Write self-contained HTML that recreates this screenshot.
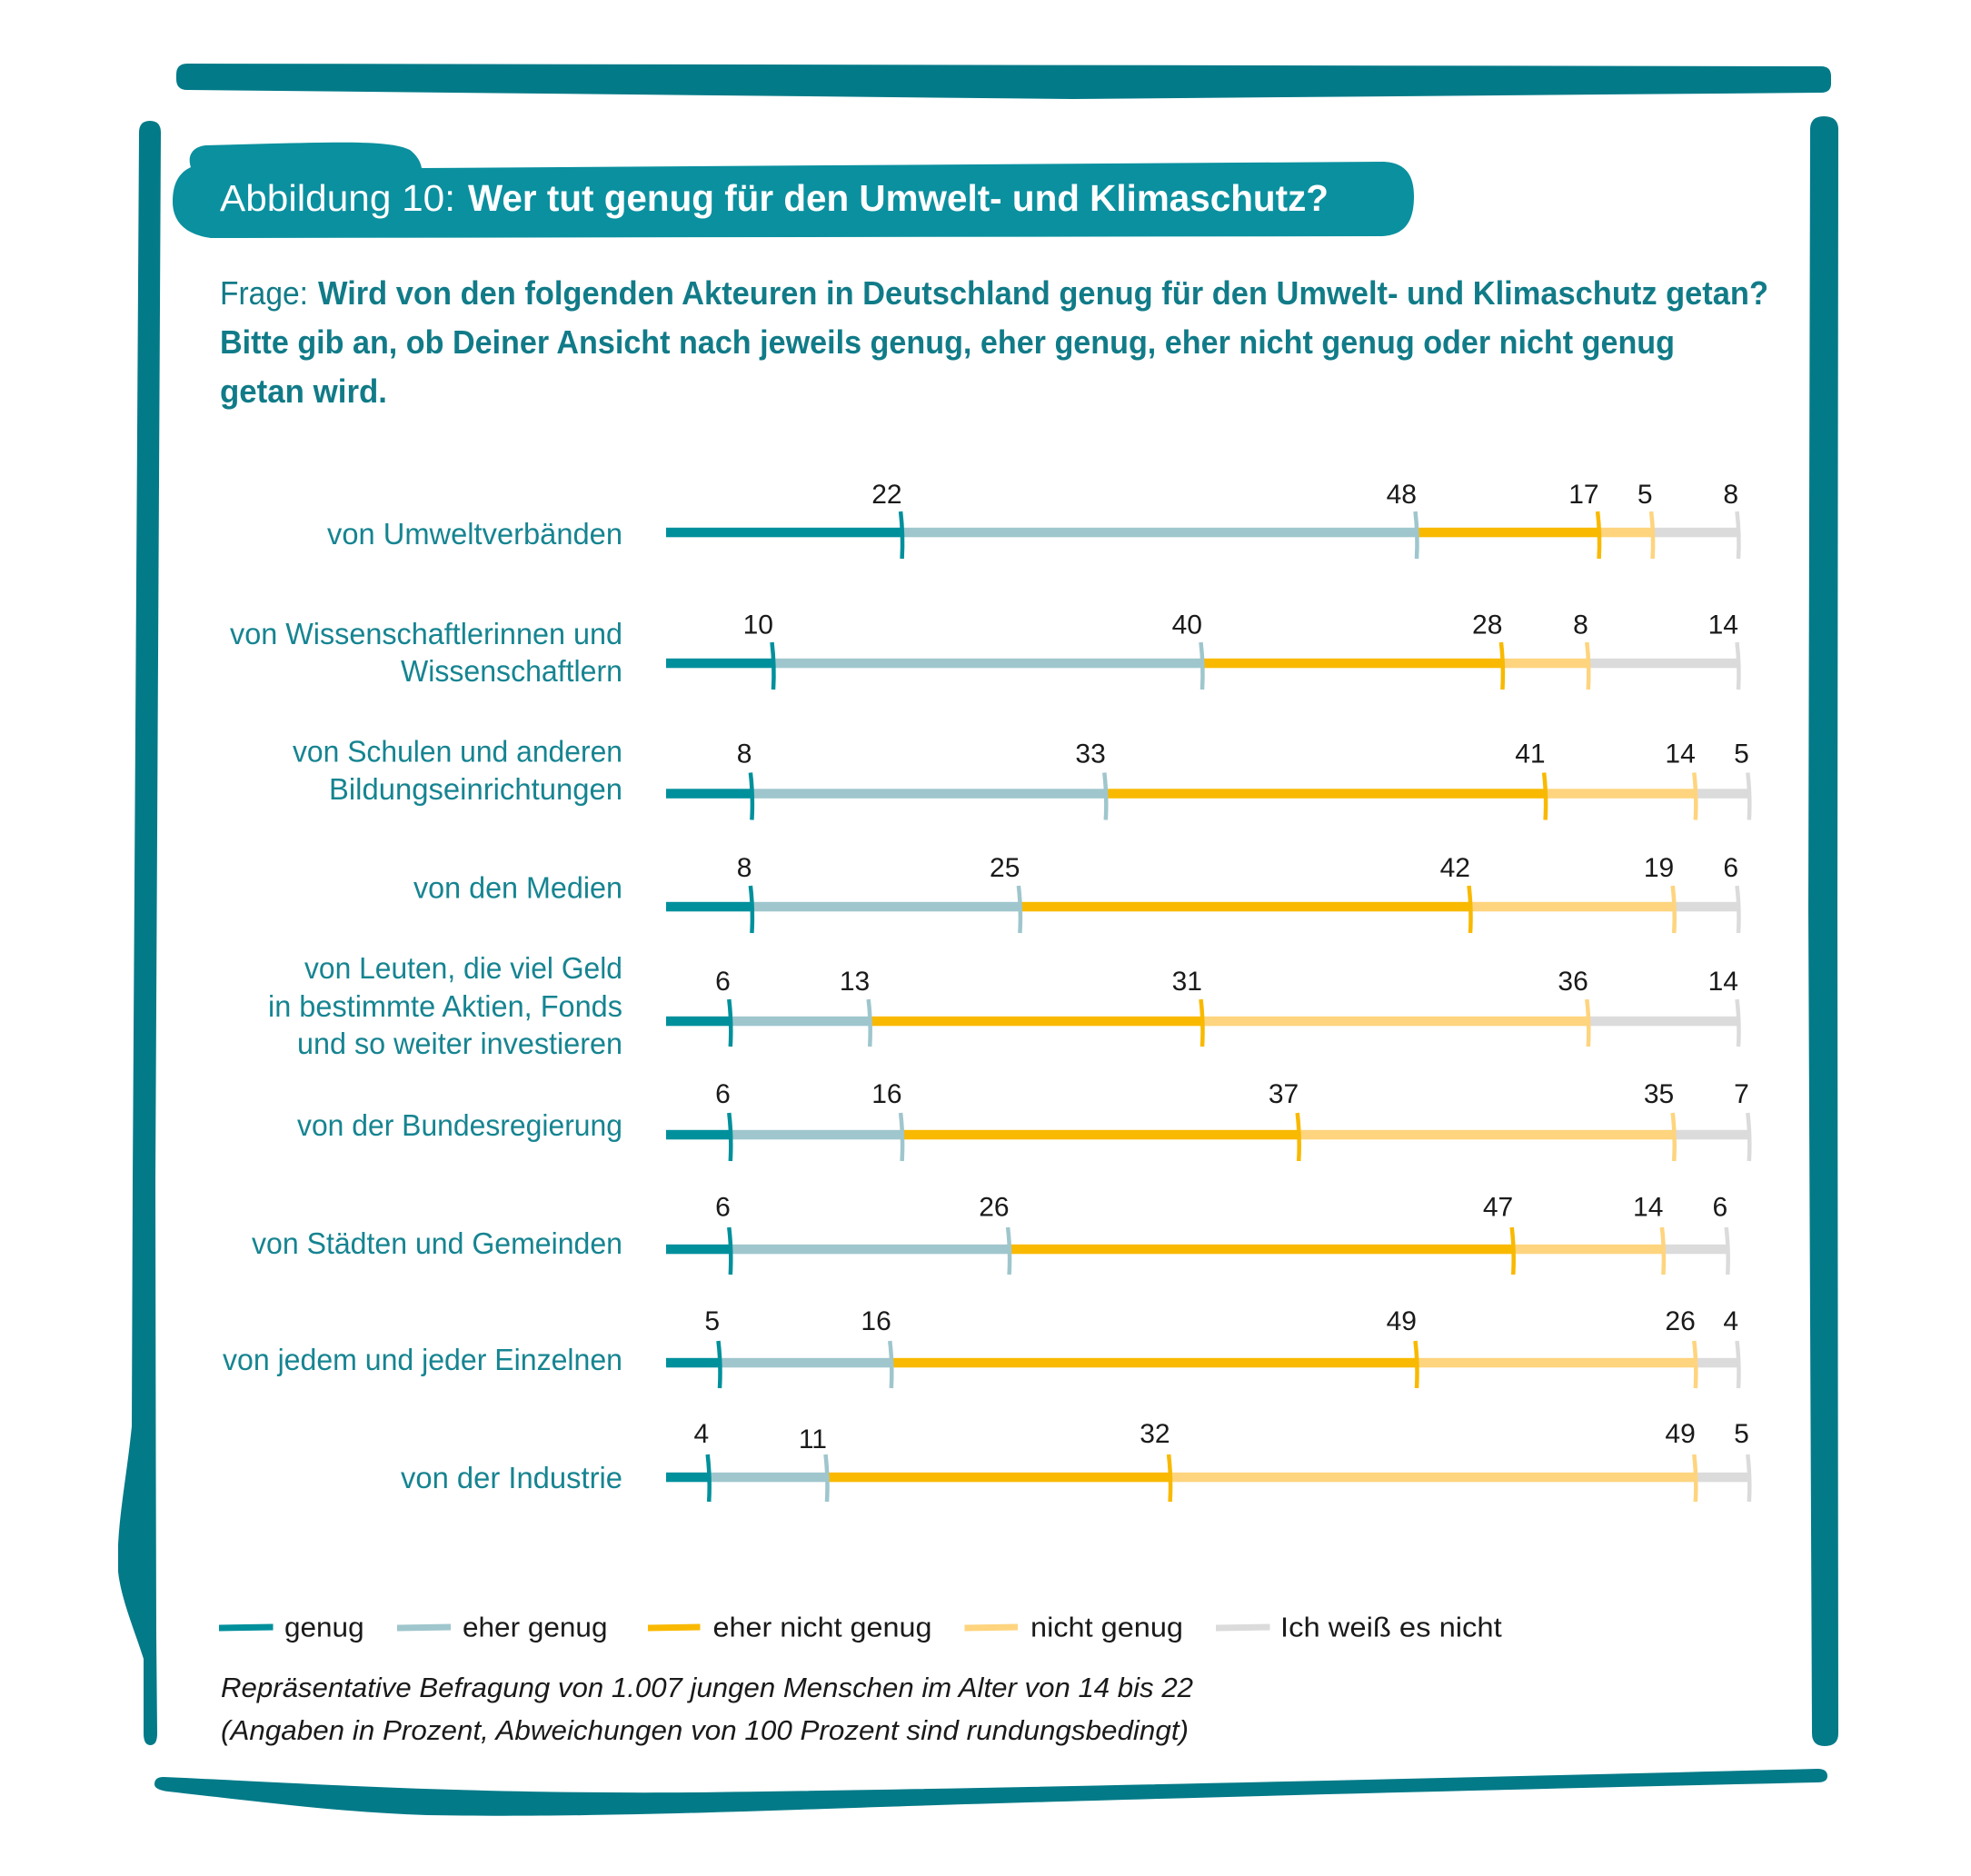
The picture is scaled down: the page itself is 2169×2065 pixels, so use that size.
<!DOCTYPE html>
<html>
<head>
<meta charset="utf-8">
<style>
html,body{margin:0;padding:0;background:#fff;}
svg{display:block;}
text{font-family:"Liberation Sans", sans-serif;}
</style>
</head>
<body>
<svg width="2169" height="2065" viewBox="0 0 2169 2065" xmlns="http://www.w3.org/2000/svg">
<rect x="0" y="0" width="2169" height="2065" fill="#ffffff"/>

<!-- frame -->
<g fill="#037a88">
<path d="M206,70 L2004,73 Q2015,73 2015,84 L2015,92 Q2015,102 2004,102 L1180,109 L206,99 Q194,99 194,87 L194,82 Q194,70 206,70 Z"/>
<path d="M153,146 Q153,133 165,133 Q177,133 177,146 L171,1300 L171.5,1600 L172,1800 L173,1908 Q173,1921 165.5,1921 Q158,1921 158,1908 L158,1826 C150,1800 133,1760 130,1730 L130,1700 C132,1660 140,1620 145,1570 L146,1300 Z"/>
<path d="M1992,141 Q1993,128 2007,128 Q2022,128 2023,141 L2022,1000 L2023,1908 Q2023,1922 2008,1922 Q1994,1922 1994,1908 L1990,1000 Z"/>
<path d="M180,1956 C300,1961 500,1975 760,1973 C1100,1969 1600,1957 2000,1947 Q2011,1947 2011,1955 Q2011,1962 2000,1962 C1600,1971 1100,1984 880,1992 C700,1998 580,2000 470,1998 C380,1995 300,1985 185,1972 Q170,1970 170,1964 Q170,1956 180,1956 Z"/>
</g>

<!-- title pill -->
<path fill="#0b909f" d="M232,262 C202,258 190,242 190,222 C190,202 197,190 210,184 C206,172 211,162 226,160 L300,158 C380,156 432,155 451,165 C460,172 463,179 464,185 L1520,178 C1547,178 1556,193 1556,216 C1556,244 1546,259 1520,260 L232,262 Z"/>
<text x="242" y="232" font-size="41" fill="#ffffff" textLength="259" lengthAdjust="spacingAndGlyphs">Abbildung 10:</text>
<text x="515" y="232" font-size="41" font-weight="bold" fill="#ffffff" textLength="947" lengthAdjust="spacingAndGlyphs">Wer tut genug für den Umwelt- und Klimaschutz?</text>

<!-- question -->
<g fill="#117b88" font-size="36">
<text x="242" y="335" textLength="97" lengthAdjust="spacingAndGlyphs">Frage:</text>
<text x="350" y="335" font-weight="bold" textLength="1596" lengthAdjust="spacingAndGlyphs">Wird von den folgenden Akteuren in Deutschland genug für den Umwelt- und Klimaschutz getan?</text>
<text x="242" y="389" font-weight="bold" textLength="1601" lengthAdjust="spacingAndGlyphs">Bitte gib an, ob Deiner Ansicht nach jeweils genug, eher genug, eher nicht genug oder nicht genug</text>
<text x="242" y="443" font-weight="bold" textLength="184" lengthAdjust="spacingAndGlyphs">getan wird.</text>
</g>

<!-- row labels -->
<g fill="#168491" font-size="33" text-anchor="end">
<text x="685" y="599" textLength="325" lengthAdjust="spacingAndGlyphs">von Umweltverbänden</text>
<text x="685" y="709" textLength="432" lengthAdjust="spacingAndGlyphs">von Wissenschaftlerinnen und</text>
<text x="685" y="750" textLength="244" lengthAdjust="spacingAndGlyphs">Wissenschaftlern</text>
<text x="685" y="838.5" textLength="363" lengthAdjust="spacingAndGlyphs">von Schulen und anderen</text>
<text x="685" y="880" textLength="323" lengthAdjust="spacingAndGlyphs">Bildungseinrichtungen</text>
<text x="685" y="988.5" textLength="230" lengthAdjust="spacingAndGlyphs">von den Medien</text>
<text x="685" y="1077" textLength="350" lengthAdjust="spacingAndGlyphs">von Leuten, die viel Geld</text>
<text x="685" y="1119" textLength="390" lengthAdjust="spacingAndGlyphs">in bestimmte Aktien, Fonds</text>
<text x="685" y="1160" textLength="358" lengthAdjust="spacingAndGlyphs">und so weiter investieren</text>
<text x="685" y="1250" textLength="358" lengthAdjust="spacingAndGlyphs">von der Bundesregierung</text>
<text x="685" y="1380" textLength="408" lengthAdjust="spacingAndGlyphs">von Städten und Gemeinden</text>
<text x="685" y="1508" textLength="440" lengthAdjust="spacingAndGlyphs">von jedem und jeder Einzelnen</text>
<text x="685" y="1638" textLength="244" lengthAdjust="spacingAndGlyphs">von der Industrie</text>
</g>

<!-- bars -->
<g font-size="30" fill="#1a1a1a" text-anchor="end" stroke-width="4.5">

<!-- Row 1 -->
<g transform="translate(0,586)">
<rect x="733" y="-5.2" width="259.6" height="10.5" fill="#00909c"/>
<rect x="992.6" y="-5.2" width="566.4" height="10.5" fill="#9fc6cd"/>
<rect x="1559" y="-5.2" width="200.6" height="10.5" fill="#f9b900"/>
<rect x="1759.6" y="-5.2" width="59" height="10.5" fill="#fed47e"/>
<rect x="1818.6" y="-5.2" width="94.4" height="10.5" fill="#dbdbdb"/>
<g fill="none">
<path d="M991.1,-23 Q994.1,3 992.6,29" stroke="#00909c"/>
<path d="M1557.5,-23 Q1560.5,3 1559,29" stroke="#9fc6cd"/>
<path d="M1758.1,-23 Q1761.1,3 1759.6,29" stroke="#f9b900"/>
<path d="M1817.1,-23 Q1820.1,3 1818.6,29" stroke="#fed47e"/>
<path d="M1911.5,-23 Q1914.5,3 1913,29" stroke="#dbdbdb"/>
</g>
<text x="992.6" y="-32">22</text>
<text x="1559" y="-32">48</text>
<text x="1759.6" y="-32">17</text>
<text x="1818.6" y="-32">5</text>
<text x="1913" y="-32">8</text>
</g>

<!-- Row 2 -->
<g transform="translate(0,730)">
<rect x="733" y="-5.2" width="118" height="10.5" fill="#00909c"/>
<rect x="851" y="-5.2" width="472" height="10.5" fill="#9fc6cd"/>
<rect x="1323" y="-5.2" width="330.4" height="10.5" fill="#f9b900"/>
<rect x="1653.4" y="-5.2" width="94.4" height="10.5" fill="#fed47e"/>
<rect x="1747.8" y="-5.2" width="165.2" height="10.5" fill="#dbdbdb"/>
<g fill="none">
<path d="M849.5,-23 Q852.5,3 851,29" stroke="#00909c"/>
<path d="M1321.5,-23 Q1324.5,3 1323,29" stroke="#9fc6cd"/>
<path d="M1651.9,-23 Q1654.9,3 1653.4,29" stroke="#f9b900"/>
<path d="M1746.3,-23 Q1749.3,3 1747.8,29" stroke="#fed47e"/>
<path d="M1911.5,-23 Q1914.5,3 1913,29" stroke="#dbdbdb"/>
</g>
<text x="851" y="-32.5">10</text>
<text x="1323" y="-32.5">40</text>
<text x="1653.4" y="-32.5">28</text>
<text x="1747.8" y="-32.5">8</text>
<text x="1913" y="-32.5">14</text>
</g>

<!-- Row 3 -->
<g transform="translate(0,873.5)">
<rect x="733" y="-5.2" width="94.4" height="10.5" fill="#00909c"/>
<rect x="827.4" y="-5.2" width="389.4" height="10.5" fill="#9fc6cd"/>
<rect x="1216.8" y="-5.2" width="483.8" height="10.5" fill="#f9b900"/>
<rect x="1700.6" y="-5.2" width="165.2" height="10.5" fill="#fed47e"/>
<rect x="1865.8" y="-5.2" width="59" height="10.5" fill="#dbdbdb"/>
<g fill="none">
<path d="M825.9,-23 Q828.9,3 827.4,29" stroke="#00909c"/>
<path d="M1215.3,-23 Q1218.3,3 1216.8,29" stroke="#9fc6cd"/>
<path d="M1699.1,-23 Q1702.1,3 1700.6,29" stroke="#f9b900"/>
<path d="M1864.3,-23 Q1867.3,3 1865.8,29" stroke="#fed47e"/>
<path d="M1923.3,-23 Q1926.3,3 1924.8,29" stroke="#dbdbdb"/>
</g>
<text x="827.4" y="-34">8</text>
<text x="1216.8" y="-34">33</text>
<text x="1700.6" y="-34">41</text>
<text x="1865.8" y="-34">14</text>
<text x="1924.8" y="-34">5</text>
</g>

<!-- Row 4 -->
<g transform="translate(0,998)">
<rect x="733" y="-5.2" width="94.4" height="10.5" fill="#00909c"/>
<rect x="827.4" y="-5.2" width="295" height="10.5" fill="#9fc6cd"/>
<rect x="1122.4" y="-5.2" width="495.6" height="10.5" fill="#f9b900"/>
<rect x="1618" y="-5.2" width="224.2" height="10.5" fill="#fed47e"/>
<rect x="1842.2" y="-5.2" width="70.8" height="10.5" fill="#dbdbdb"/>
<g fill="none">
<path d="M825.9,-23 Q828.9,3 827.4,29" stroke="#00909c"/>
<path d="M1120.9,-23 Q1123.9,3 1122.4,29" stroke="#9fc6cd"/>
<path d="M1616.5,-23 Q1619.5,3 1618,29" stroke="#f9b900"/>
<path d="M1840.7,-23 Q1843.7,3 1842.2,29" stroke="#fed47e"/>
<path d="M1911.5,-23 Q1914.5,3 1913,29" stroke="#dbdbdb"/>
</g>
<text x="827.4" y="-33">8</text>
<text x="1122.4" y="-33">25</text>
<text x="1618" y="-33">42</text>
<text x="1842.2" y="-33">19</text>
<text x="1913" y="-33">6</text>
</g>

<!-- Row 5 -->
<g transform="translate(0,1124)">
<rect x="733" y="-5.2" width="70.8" height="10.5" fill="#00909c"/>
<rect x="803.8" y="-5.2" width="153.4" height="10.5" fill="#9fc6cd"/>
<rect x="957.2" y="-5.2" width="365.8" height="10.5" fill="#f9b900"/>
<rect x="1323" y="-5.2" width="424.8" height="10.5" fill="#fed47e"/>
<rect x="1747.8" y="-5.2" width="165.2" height="10.5" fill="#dbdbdb"/>
<g fill="none">
<path d="M802.3,-24 Q805.3,2 803.8,28" stroke="#00909c"/>
<path d="M955.7,-24 Q958.7,2 957.2,28" stroke="#9fc6cd"/>
<path d="M1321.5,-24 Q1324.5,2 1323,28" stroke="#f9b900"/>
<path d="M1746.3,-24 Q1749.3,2 1747.8,28" stroke="#fed47e"/>
<path d="M1911.5,-24 Q1914.5,2 1913,28" stroke="#dbdbdb"/>
</g>
<text x="803.8" y="-34">6</text>
<text x="957.2" y="-34">13</text>
<text x="1323" y="-34">31</text>
<text x="1747.8" y="-34">36</text>
<text x="1913" y="-34">14</text>
</g>

<!-- Row 6 -->
<g transform="translate(0,1249)">
<rect x="733" y="-5.2" width="70.8" height="10.5" fill="#00909c"/>
<rect x="803.8" y="-5.2" width="188.8" height="10.5" fill="#9fc6cd"/>
<rect x="992.6" y="-5.2" width="436.6" height="10.5" fill="#f9b900"/>
<rect x="1429.2" y="-5.2" width="413" height="10.5" fill="#fed47e"/>
<rect x="1842.2" y="-5.2" width="82.6" height="10.5" fill="#dbdbdb"/>
<g fill="none">
<path d="M802.3,-24 Q805.3,2 803.8,29" stroke="#00909c"/>
<path d="M991.1,-24 Q994.1,2 992.6,29" stroke="#9fc6cd"/>
<path d="M1427.7,-24 Q1430.7,2 1429.2,29" stroke="#f9b900"/>
<path d="M1840.7,-24 Q1843.7,2 1842.2,29" stroke="#fed47e"/>
<path d="M1923.3,-24 Q1926.3,2 1924.8,29" stroke="#dbdbdb"/>
</g>
<text x="803.8" y="-35">6</text>
<text x="992.6" y="-35">16</text>
<text x="1429.2" y="-35">37</text>
<text x="1842.2" y="-35">35</text>
<text x="1924.8" y="-35">7</text>
</g>

<!-- Row 7 -->
<g transform="translate(0,1375)">
<rect x="733" y="-5.2" width="70.8" height="10.5" fill="#00909c"/>
<rect x="803.8" y="-5.2" width="306.8" height="10.5" fill="#9fc6cd"/>
<rect x="1110.6" y="-5.2" width="554.6" height="10.5" fill="#f9b900"/>
<rect x="1665.2" y="-5.2" width="165.2" height="10.5" fill="#fed47e"/>
<rect x="1830.4" y="-5.2" width="70.8" height="10.5" fill="#dbdbdb"/>
<g fill="none">
<path d="M802.3,-24 Q805.3,2 803.8,28" stroke="#00909c"/>
<path d="M1109.1,-24 Q1112.1,2 1110.6,28" stroke="#9fc6cd"/>
<path d="M1663.7,-24 Q1666.7,2 1665.2,28" stroke="#f9b900"/>
<path d="M1828.9,-24 Q1831.9,2 1830.4,28" stroke="#fed47e"/>
<path d="M1899.7,-24 Q1902.7,2 1901.2,28" stroke="#dbdbdb"/>
</g>
<text x="803.8" y="-36.5">6</text>
<text x="1110.6" y="-36.5">26</text>
<text x="1665.2" y="-36.5">47</text>
<text x="1830.4" y="-36.5">14</text>
<text x="1901.2" y="-36.5">6</text>
</g>

<!-- Row 8 -->
<g transform="translate(0,1500)">
<rect x="733" y="-5.2" width="59" height="10.5" fill="#00909c"/>
<rect x="792" y="-5.2" width="188.8" height="10.5" fill="#9fc6cd"/>
<rect x="980.8" y="-5.2" width="578.2" height="10.5" fill="#f9b900"/>
<rect x="1559" y="-5.2" width="306.8" height="10.5" fill="#fed47e"/>
<rect x="1865.8" y="-5.2" width="47.2" height="10.5" fill="#dbdbdb"/>
<g fill="none">
<path d="M790.5,-24 Q793.5,2 792,28" stroke="#00909c"/>
<path d="M979.3,-24 Q982.3,2 980.8,28" stroke="#9fc6cd"/>
<path d="M1557.5,-24 Q1560.5,2 1559,28" stroke="#f9b900"/>
<path d="M1864.3,-24 Q1867.3,2 1865.8,28" stroke="#fed47e"/>
<path d="M1911.5,-24 Q1914.5,2 1913,28" stroke="#dbdbdb"/>
</g>
<text x="792" y="-36">5</text>
<text x="980.8" y="-36">16</text>
<text x="1559" y="-36">49</text>
<text x="1865.8" y="-36">26</text>
<text x="1913" y="-36">4</text>
</g>

<!-- Row 9 -->
<g transform="translate(0,1626)">
<rect x="733" y="-5.2" width="47.2" height="10.5" fill="#00909c"/>
<rect x="780.2" y="-5.2" width="129.8" height="10.5" fill="#9fc6cd"/>
<rect x="910" y="-5.2" width="377.6" height="10.5" fill="#f9b900"/>
<rect x="1287.6" y="-5.2" width="578.2" height="10.5" fill="#fed47e"/>
<rect x="1865.8" y="-5.2" width="59" height="10.5" fill="#dbdbdb"/>
<g fill="none">
<path d="M778.7,-25 Q781.7,2 780.2,27" stroke="#00909c"/>
<path d="M908.5,-25 Q911.5,2 910,27" stroke="#9fc6cd"/>
<path d="M1286.1,-25 Q1289.1,2 1287.6,27" stroke="#f9b900"/>
<path d="M1864.3,-25 Q1867.3,2 1865.8,27" stroke="#fed47e"/>
<path d="M1923.3,-25 Q1926.3,2 1924.8,27" stroke="#dbdbdb"/>
</g>
<text x="780.2" y="-38">4</text>
<text x="910" y="-32">11</text>
<text x="1287.6" y="-38">32</text>
<text x="1865.8" y="-38">49</text>
<text x="1924.8" y="-38">5</text>
</g>
</g>

<!-- legend -->
<path d="M241,1788.5 L300.5,1787.5 L300.5,1794.5 L241,1795.5 Z" fill="#00909c"/>
<path d="M437,1788.5 L496,1787.5 L496,1794.5 L437,1795.5 Z" fill="#9fc6cd"/>
<path d="M713,1788.5 L770.5,1787.5 L770.5,1794.5 L713,1795.5 Z" fill="#f9b900"/>
<path d="M1061.5,1788.5 L1120,1787.5 L1120,1794.5 L1061.5,1795.5 Z" fill="#fed47e"/>
<path d="M1338,1788.5 L1397.5,1787.5 L1397.5,1794.5 L1338,1795.5 Z" fill="#dbdbdb"/>
<g font-size="31" fill="#1a1a1a">
<text x="313" y="1801.5" textLength="87.6" lengthAdjust="spacingAndGlyphs">genug</text>
<text x="509" y="1801.5" textLength="159.5" lengthAdjust="spacingAndGlyphs">eher genug</text>
<text x="784.5" y="1801.5" textLength="241" lengthAdjust="spacingAndGlyphs">eher nicht genug</text>
<text x="1134" y="1801.5" textLength="168" lengthAdjust="spacingAndGlyphs">nicht genug</text>
<text x="1409" y="1801.5" textLength="243.7" lengthAdjust="spacingAndGlyphs">Ich weiß es nicht</text>
</g>

<!-- footnote -->
<g font-size="31" font-style="italic" fill="#1a1a1a">
<text x="243" y="1868" textLength="1070" lengthAdjust="spacingAndGlyphs">Repräsentative Befragung von 1.007 jungen Menschen im Alter von 14 bis 22</text>
<text x="243" y="1915" textLength="1065" lengthAdjust="spacingAndGlyphs">(Angaben in Prozent, Abweichungen von 100 Prozent sind rundungsbedingt)</text>
</g>
</svg>
</body>
</html>
